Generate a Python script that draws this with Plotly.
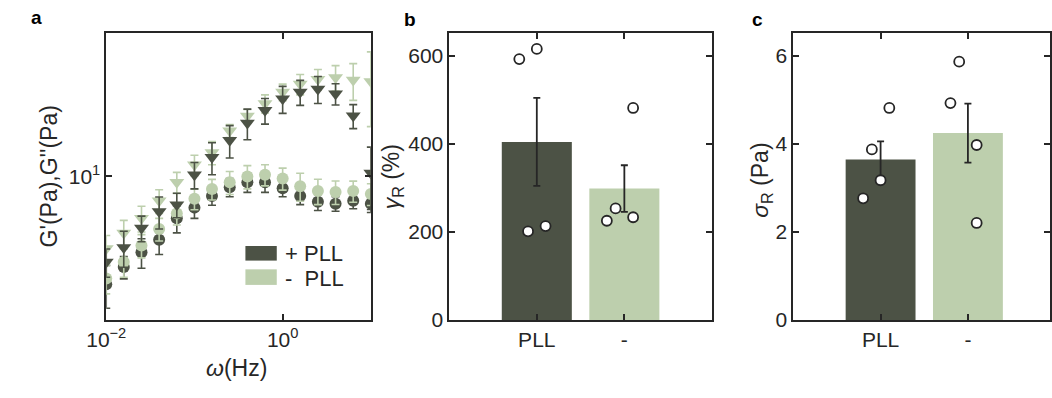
import math
import plotly.graph_objects as go

# ---------------- data: panel a (frequency sweep) ----------------
freq = [0.01, 0.0158, 0.0251, 0.0398, 0.0631, 0.1, 0.158, 0.251, 0.398, 0.631,
        1.0, 1.58, 2.51, 3.98, 6.31, 10.0]
g1_pll = [2.98, 3.62, 4.27, 4.92, 6.26, 7.05, 8.04, 8.87, 9.37, 9.37, 8.77, 8.04, 7.53, 7.37, 7.61, 7.37]
g1_pll_err = [0.7, 0.45, 0.7, 0.75, 0.95, 0.8, 0.8, 0.9, 1.0, 1.0, 0.8, 0.75, 0.7, 0.6, 0.65, 0.7]
g1_nopll = [3.18, 3.83, 4.61, 5.55, 6.60, 7.78, 8.68, 9.37, 10.0, 10.2, 9.78, 8.97, 8.49, 8.40, 8.49, 8.22]
g1_nopll_err = [0.5, 0.6, 0.6, 0.7, 0.8, 0.9, 1.0, 1.2, 1.3, 1.2, 1.2, 1.4, 1.2, 1.1, 1.0, 1.0]
g2_pll = [3.83, 4.51, 5.61, 6.75, 7.29, 10.2, 12.4, 15.0, 18.2, 21.0, 23.9, 25.8, 26.7, 25.3, 19.75, 10.4]
g2_pll_err = [0.6, 0.9, 0.8, 1.2, 1.0, 1.5, 2.2, 2.7, 3.1, 3.0, 3.6, 3.6, 4.0, 3.0, 2.65, 3.5]
g2_nopll = [4.46, 5.31, 6.26, 7.61, 9.37, 11.4, 13.1, 16.7, 19.7, 22.7, 25.8, 28.2, 29.8, 30.4, 29.5, 29.0]
g2_nopll_err = [0.7, 0.8, 0.9, 1.0, 1.1, 1.3, 1.7, 1.2, 1.5, 2.3, 2.4, 3.2, 3.4, 4.3, 6.0, 11.5]

# ---------------- data: panels b, c ----------------
groups = ["PLL", "-"]
gamma_mean = [404, 298]
gamma_sem = [100, 53]
gamma_pts_pll = [592, 615, 201, 213]
gamma_pts_nopll = [225, 253, 233, 481]
gamma_jit_pll = [-0.2, 0.0, -0.1, 0.1]
gamma_jit_nopll = [-0.2, -0.1, 0.1, 0.1]

sigma_mean = [3.64, 4.24]
sigma_sem = [0.41, 0.67]
sigma_pts_pll = [2.76, 3.87, 3.17, 4.81]
sigma_pts_nopll = [5.86, 4.92, 3.97, 2.20]
sigma_jit_pll = [-0.2, -0.1, 0.0, 0.1]
sigma_jit_nopll = [-0.1, -0.2, 0.1, 0.1]

DARK = "#4c5245"
LIGHT = "#bdcfad"
INK = "#262626"
FONT = "Liberation Sans, Arial, Helvetica, sans-serif"
W, H = 1052, 398


def px(x):
    return x / W


def py(y):
    return 1 - y / H


fig = go.Figure()


def gtrace(y, err, color, symbol, size):
    return go.Scatter(
        x=freq, y=y, mode="markers", xaxis="x", yaxis="y",
        marker=dict(color=color, symbol=symbol, size=size, line=dict(width=0)),
        error_y=dict(type="data", array=err, color=color, thickness=1.6, width=4),
        showlegend=False, hoverinfo="skip",
    )


fig.add_trace(gtrace(g1_pll, g1_pll_err, DARK, "circle", 12))
fig.add_trace(gtrace(g1_nopll, g1_nopll_err, LIGHT, "circle", 12))
fig.add_trace(gtrace(g2_nopll, g2_nopll_err, LIGHT, "triangle-down", 13))
fig.add_trace(gtrace(g2_pll, g2_pll_err, DARK, "triangle-down", 13))

cats = [1, 2]
for ax, means, sems, p1, p2, j1, j2 in [
    ("2", gamma_mean, gamma_sem, gamma_pts_pll, gamma_pts_nopll, gamma_jit_pll, gamma_jit_nopll),
    ("3", sigma_mean, sigma_sem, sigma_pts_pll, sigma_pts_nopll, sigma_jit_pll, sigma_jit_nopll),
]:
    fig.add_trace(go.Bar(
        x=cats, y=means, width=0.8, xaxis="x" + ax, yaxis="y" + ax,
        marker=dict(color=[DARK, LIGHT], line=dict(width=0)),
        error_y=dict(type="data", array=sems, color=INK, thickness=1.8, width=3.5),
        showlegend=False, hoverinfo="skip",
    ))
    xs = [cats[0] + j for j in j1] + [cats[1] + j for j in j2]
    ys = p1 + p2
    fig.add_trace(go.Scatter(
        x=xs, y=ys, mode="markers", xaxis="x" + ax, yaxis="y" + ax,
        marker=dict(color="white", size=10, line=dict(color=INK, width=1.8)),
        showlegend=False, hoverinfo="skip",
    ))

axis_common = dict(
    showline=True, linecolor=INK, linewidth=1.6, mirror="ticks",
    ticks="inside", ticklen=6, tickwidth=1.6, tickcolor=INK,
    showgrid=False, zeroline=False,
    tickfont=dict(family=FONT, size=21, color=INK),
)

fig.update_layout(
    width=W, height=H,
    margin=dict(l=0, r=0, t=0, b=0),
    paper_bgcolor="white", plot_bgcolor="white",
    showlegend=False, barmode="overlay",
    font=dict(family=FONT, color=INK),
    xaxis=dict(domain=[px(88), px(358)], type="log", range=[-2, 1],
               tickvals=[0.01, 1, 10],
               ticktext=["10<sup>\u22122</sup>", "10<sup>0</sup>", ""],
               anchor="y", **axis_common),
    yaxis=dict(domain=[py(329), py(34)], type="log",
               range=[math.log10(2), math.log10(50)],
               tickvals=[10], ticktext=["10<sup>1</sup>"],
               anchor="x", **axis_common),
    xaxis2=dict(domain=[px(438), px(706)], range=[0, 3],
                tickvals=cats, ticktext=groups, anchor="y2", **axis_common),
    yaxis2=dict(domain=[py(329), py(34)], range=[0, 651],
                tickvals=[0, 200, 400, 600], anchor="x2", **axis_common),
    xaxis3=dict(domain=[px(789), px(1051)], range=[0, 2.94],
                tickvals=cats, ticktext=groups, anchor="y3", **axis_common),
    yaxis3=dict(domain=[py(329), py(34)], range=[0, 6.51],
                tickvals=[0, 2, 4, 6], anchor="x3", **axis_common),
)

ann = []


def text(x, y, s, size=20, angle=0, bold=False, xanchor="center"):
    ann.append(dict(
        x=px(x), y=py(y), xref="paper", yref="paper",
        text=("<b>%s</b>" % s) if bold else s,
        showarrow=False, textangle=angle, xanchor=xanchor, yanchor="middle",
        font=dict(family=FONT, size=size, color="black" if bold else INK),
    ))


text(17, 18, "a", size=19, bold=True)
text(398, 20, "b", size=19, bold=True)
text(753, 20, "c", size=19, bold=True)
text(30, 181, "G'(Pa),G''(Pa)", size=23, angle=-90)
text(221, 378, "<i>\u03c9</i>(Hz)", size=23)
text(381, 182, "<i>\u03b3</i><sub>R</sub> (%)", size=23, angle=-90)
text(757, 185, "<i>\u03c3</i><sub>R</sub> (Pa)", size=23, angle=-90)
text(268, 261, "+ PLL", size=22, xanchor="left")
text(268, 286, "-  PLL", size=22, xanchor="left")
fig.update_layout(annotations=ann)

fig.add_shape(type="rect", xref="paper", yref="paper",
              x0=px(230), x1=px(262), y0=py(268), y1=py(253),
              fillcolor=DARK, line=dict(width=0))
fig.add_shape(type="rect", xref="paper", yref="paper",
              x0=px(230), x1=px(262), y0=py(293), y1=py(277),
              fillcolor=LIGHT, line=dict(width=0))

fig.write_html("out.html", post_script="document.body.style.margin='0px';")
